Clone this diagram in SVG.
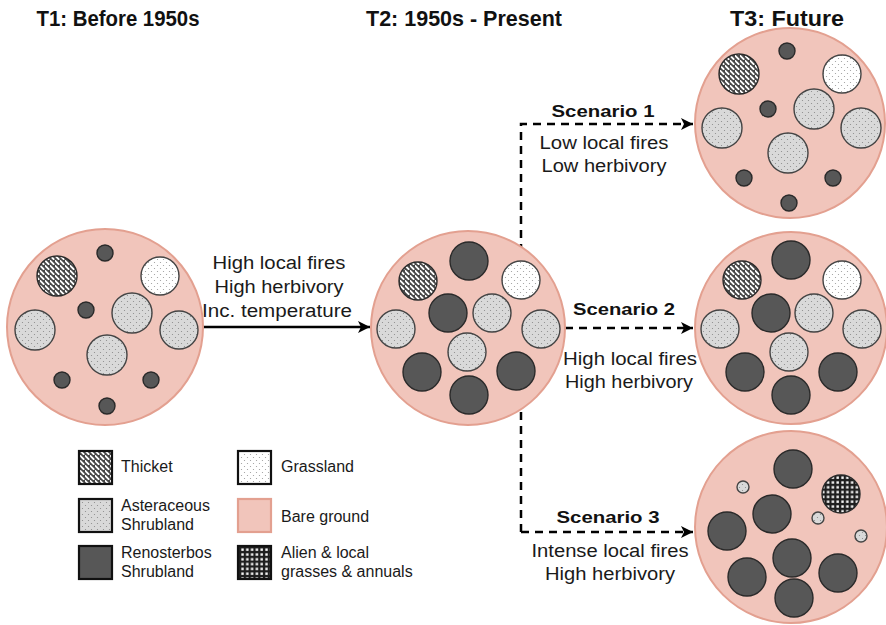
<svg xmlns="http://www.w3.org/2000/svg" width="886" height="625" viewBox="0 0 886 625">
<defs>
<pattern id="pThicket" width="5" height="5" patternUnits="userSpaceOnUse">
<rect width="5" height="5" fill="#474747"/>
<path d="M0.3,0.8 L3.6,4.2" stroke="#ffffff" stroke-width="1.9" stroke-linecap="round"/>
</pattern>
<pattern id="pAster" width="6" height="6" patternUnits="userSpaceOnUse">
<rect width="6" height="6" fill="#d9d9d9"/>
<circle cx="1.5" cy="1.5" r="0.6" fill="#8a8a8a"/>
<circle cx="4.5" cy="4.5" r="0.6" fill="#8a8a8a"/>
</pattern>
<pattern id="pGrass" width="6" height="6" patternUnits="userSpaceOnUse">
<rect width="6" height="6" fill="#ffffff"/>
<circle cx="1.5" cy="1.5" r="0.6" fill="#9a9a9a"/>
<circle cx="4.5" cy="4.5" r="0.6" fill="#9a9a9a"/>
</pattern>
<pattern id="pAlien" width="4.8" height="4.8" patternUnits="userSpaceOnUse">
<rect width="4.8" height="4.8" fill="#1e1e1e"/>
<rect x="1.3" y="1.3" width="2.4" height="2.4" fill="#ffffff"/>
</pattern>
<marker id="ah" markerUnits="userSpaceOnUse" markerWidth="13" markerHeight="12" refX="12" refY="6" orient="auto">
<path d="M0,0 L12,6 L0,12 L3,6 z" fill="#000"/>
</marker>
</defs>
<style>
.bg{fill:#f1c5bb;stroke:#e3a090;stroke-width:2}
.dk{fill:#575757;stroke:#2a2a2a;stroke-width:1.4}
.th{fill:url(#pThicket);stroke:#2a2a2a;stroke-width:1.4}
.as{fill:url(#pAster);stroke:#444;stroke-width:1.4}
.gr{fill:url(#pGrass);stroke:#444;stroke-width:1.4}
.al{fill:url(#pAlien);stroke:#2a2a2a;stroke-width:1.4}
.title{font-family:"Liberation Sans",Arial,sans-serif;font-weight:bold;font-size:22px;fill:#111;text-anchor:middle}
.lbl{font-family:"Liberation Sans",Arial,sans-serif;font-size:18px;fill:#1a1a1a;text-anchor:middle}
.sc{font-family:"Liberation Sans",Arial,sans-serif;font-weight:bold;font-size:17px;fill:#111;text-anchor:middle}
.lg{font-family:"Liberation Sans",Arial,sans-serif;font-size:16px;fill:#1a1a1a}
.box{stroke:#111;stroke-width:2.2}
.dash{fill:none;stroke:#000;stroke-width:2.5;stroke-dasharray:8 6}
.solid{fill:none;stroke:#000;stroke-width:2.5}
</style>
<rect width="886" height="625" fill="#ffffff"/>

<g id="titles">
<text class="title" x="118" y="26" textLength="163" lengthAdjust="spacingAndGlyphs">T1: Before 1950s</text>
<text class="title" x="464" y="26" textLength="196" lengthAdjust="spacingAndGlyphs">T2: 1950s - Present</text>
<text class="title" x="787" y="26" textLength="114" lengthAdjust="spacingAndGlyphs">T3: Future</text>
</g>

<g id="connectors">
<line class="solid" x1="202" y1="327" x2="370" y2="327" marker-end="url(#ah)"/>
<polyline class="dash" points="521,532 521,124 693,124" marker-end="url(#ah)"/>
<line class="dash" x1="565" y1="328" x2="693" y2="328" marker-end="url(#ah)"/>
<line class="dash" x1="521" y1="532" x2="693" y2="532" marker-end="url(#ah)"/>
</g>

<g id="labels">
<text class="lbl" x="279" y="269" textLength="133" lengthAdjust="spacingAndGlyphs">High local fires</text>
<text class="lbl" x="279" y="293" textLength="129" lengthAdjust="spacingAndGlyphs">High herbivory</text>
<text class="lbl" x="277" y="317" textLength="150" lengthAdjust="spacingAndGlyphs">Inc. temperature</text>
<text class="sc" x="603" y="117" textLength="103" lengthAdjust="spacingAndGlyphs">Scenario 1</text>
<text class="lbl" x="604" y="149" textLength="129" lengthAdjust="spacingAndGlyphs">Low local fires</text>
<text class="lbl" x="604" y="172" textLength="125" lengthAdjust="spacingAndGlyphs">Low herbivory</text>
<text class="sc" x="624" y="315" textLength="102" lengthAdjust="spacingAndGlyphs">Scenario 2</text>
<text class="lbl" x="630" y="365" textLength="134" lengthAdjust="spacingAndGlyphs">High local fires</text>
<text class="lbl" x="629" y="388" textLength="128" lengthAdjust="spacingAndGlyphs">High herbivory</text>
<text class="sc" x="608" y="523" textLength="103" lengthAdjust="spacingAndGlyphs">Scenario 3</text>
<text class="lbl" x="610" y="557" textLength="157" lengthAdjust="spacingAndGlyphs">Intense local fires</text>
<text class="lbl" x="610" y="580" textLength="130" lengthAdjust="spacingAndGlyphs">High herbivory</text>
</g>

<g id="t1">
<circle class="bg" cx="105" cy="327" r="98"/>
<circle class="dk" cx="105" cy="253" r="8"/>
<circle class="dk" cx="86" cy="310" r="8"/>
<circle class="dk" cx="62" cy="380" r="8"/>
<circle class="dk" cx="151" cy="380" r="8"/>
<circle class="dk" cx="107" cy="406" r="8"/>
<circle class="th" cx="57" cy="276" r="20"/>
<circle class="gr" cx="160" cy="276" r="19"/>
<circle class="as" cx="132" cy="313" r="20"/>
<circle class="as" cx="35" cy="330" r="20"/>
<circle class="as" cx="179" cy="330" r="19"/>
<circle class="as" cx="107" cy="355" r="20"/>
</g>

<g id="t2">
<circle class="bg" cx="468" cy="328" r="97"/>
<circle class="dk" cx="469" cy="261" r="19"/>
<circle class="dk" cx="448" cy="313" r="19"/>
<circle class="dk" cx="422" cy="372" r="19"/>
<circle class="dk" cx="516" cy="371" r="19"/>
<circle class="dk" cx="469" cy="395" r="19"/>
<circle class="th" cx="418" cy="281" r="19"/>
<circle class="gr" cx="521" cy="280" r="19"/>
<circle class="as" cx="492" cy="313" r="19"/>
<circle class="as" cx="396" cy="329" r="19"/>
<circle class="as" cx="541" cy="329" r="19"/>
<circle class="as" cx="467" cy="352" r="19"/>
</g>

<g id="t3-scenario1">
<circle class="bg" cx="790" cy="123" r="95"/>
<circle class="dk" cx="787" cy="51" r="8"/>
<circle class="dk" cx="768" cy="109" r="8"/>
<circle class="dk" cx="744" cy="178" r="8"/>
<circle class="dk" cx="833" cy="178" r="8"/>
<circle class="dk" cx="789" cy="203" r="8"/>
<circle class="th" cx="739" cy="74" r="20"/>
<circle class="gr" cx="842" cy="74" r="19"/>
<circle class="as" cx="814" cy="109" r="20"/>
<circle class="as" cx="722" cy="128" r="20"/>
<circle class="as" cx="861" cy="128" r="20"/>
<circle class="as" cx="788" cy="153" r="20"/>
</g>

<g id="t3-scenario2">
<circle class="bg" cx="791" cy="328" r="96"/>
<circle class="dk" cx="791" cy="260" r="19"/>
<circle class="dk" cx="771" cy="313" r="19"/>
<circle class="dk" cx="745" cy="372" r="19"/>
<circle class="dk" cx="838" cy="372" r="19"/>
<circle class="dk" cx="791" cy="395" r="19"/>
<circle class="th" cx="742" cy="280" r="19"/>
<circle class="gr" cx="842" cy="280" r="19"/>
<circle class="as" cx="814" cy="313" r="19"/>
<circle class="as" cx="720" cy="329" r="19"/>
<circle class="as" cx="862" cy="329" r="19"/>
<circle class="as" cx="789" cy="352" r="19"/>
</g>

<g id="t3-scenario3">
<circle class="bg" cx="791" cy="527" r="96"/>
<circle class="dk" cx="793" cy="469" r="19"/>
<circle class="dk" cx="772" cy="514" r="19"/>
<circle class="dk" cx="727" cy="531" r="19"/>
<circle class="dk" cx="792" cy="558" r="19"/>
<circle class="dk" cx="747" cy="577" r="19"/>
<circle class="dk" cx="838" cy="573" r="19"/>
<circle class="dk" cx="794" cy="598" r="19"/>
<circle class="al" cx="841" cy="494" r="19"/>
<circle class="as" cx="743" cy="487" r="6"/>
<circle class="as" cx="818" cy="518" r="6"/>
<circle class="as" cx="861" cy="536" r="6"/>
</g>

<g id="legend">
<g id="lg-thicket">
<rect class="box" x="79" y="451" width="33" height="33" fill="url(#pThicket)"/>
<text class="lg" x="121" y="472">Thicket</text>
</g>
<g id="lg-aster">
<rect class="box" x="79" y="499" width="33" height="33" fill="url(#pAster)"/>
<text class="lg" x="121" y="511">Asteraceous</text>
<text class="lg" x="121" y="530">Shrubland</text>
</g>
<g id="lg-reno">
<rect class="box" x="79" y="546" width="33" height="33" fill="#575757"/>
<text class="lg" x="121" y="558">Renosterbos</text>
<text class="lg" x="121" y="577">Shrubland</text>
</g>
<g id="lg-grass">
<rect class="box" x="238" y="451" width="33" height="33" fill="url(#pGrass)"/>
<text class="lg" x="281" y="472">Grassland</text>
</g>
<g id="lg-bare">
<rect x="238" y="499" width="33" height="33" fill="#f1c5bb" stroke="#e3a090" stroke-width="2.2"/>
<text class="lg" x="281" y="522">Bare ground</text>
</g>
<g id="lg-alien">
<rect class="box" x="238" y="546" width="33" height="33" fill="url(#pAlien)"/>
<text class="lg" x="281" y="558">Alien &amp; local</text>
<text class="lg" x="281" y="577">grasses &amp; annuals</text>
</g>
</g>
</svg>
